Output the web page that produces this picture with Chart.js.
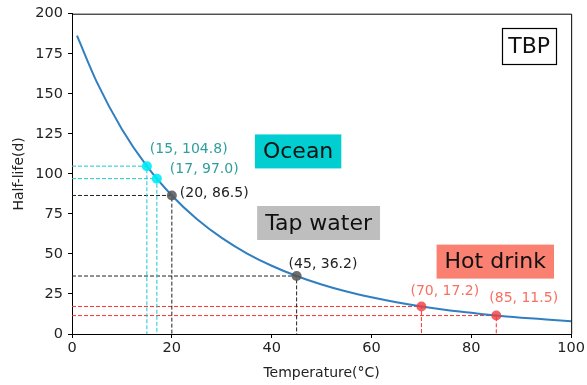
<!DOCTYPE html>
<html>
<head>
<meta charset="utf-8">
<script src="https://cdn.jsdelivr.net/npm/chart.js@4"></script>
<style>
  html, body { margin: 0; padding: 0; background: #fff; }
  canvas { display: block; }
</style>
</head>
<body>
<canvas id="tbpChart" width="587" height="385"></canvas>
<script>
// 곡선 데이터
var temps = [1, 5, 10, 15, 20, 25, 30, 35, 40, 45, 50, 55, 60, 65, 70, 75, 80, 85, 90, 95, 100];
var halfLife = [186.3, 157.1, 127.9, 104.8, 86.5, 71.8, 60.0, 50.4, 42.6, 36.2, 30.9, 26.5, 22.9, 19.8, 17.2, 15.0, 13.2, 11.5, 10.2, 9.1, 8.0];

// 표시된 점들
var oceanT = [15, 17];
var oceanH = [104.8, 97.0];
var tapT = [20, 45];
var tapH = [86.5, 36.2];
var hotT = [70, 85];
var hotH = [17.2, 11.5];

// 텍스트 박스
var boxLabels = ['Ocean', 'Tap water', 'Hot drink'];
var boxX = [45.3, 49.4, 84.8];
var boxY = [114, 69.3, 45.2];
var boxColors = ['#00CED1', '#BEBEBE', '#FA8072'];

var xTicks = [0, 20, 40, 60, 80, 100];
var yTicks = [0, 25, 50, 75, 100, 125, 150, 175, 200];

var FONT = "'DejaVu Sans', sans-serif";

function toXY(xs, ys) {
    return xs.map(function(x, i) { return {x: x, y: ys[i]}; });
}

// 점에서 축까지 점선
function guideSets(xs, ys, color) {
    return xs.map(function(x, i) {
        return {
            type: 'line',
            data: [{x: 0, y: ys[i]}, {x: x, y: ys[i]}, {x: x, y: 0}],
            borderColor: color,
            borderWidth: 1,
            borderDash: [4, 2],
            pointRadius: 0,
            fill: false,
            tension: 0,
            order: 5
        };
    });
}

function pointSet(xs, ys, color) {
    return {
        type: 'scatter',
        data: toXY(xs, ys),
        backgroundColor: color,
        borderColor: color,
        pointRadius: 5,
        borderWidth: 0,
        order: 1
    };
}

// 라벨 오프셋 (px)
var labelSets = [
    {xs: oceanT, ys: oceanH, color: '#2E9E9E', dx: [3, 13], dy: [-17, -9]},
    {xs: tapT, ys: tapH, color: '#222222', dx: [8, -8], dy: [-2, -12]},
    {xs: hotT, ys: hotH, color: '#F87060', dx: [-11, -7], dy: [-15, -17]}
];

var annotPlugin = {
    id: 'annot',
    afterDatasetsDraw: function(chart) {
        var ctx = chart.ctx;
        var xs = chart.scales.x, ys = chart.scales.y;
        var area = chart.chartArea;
        ctx.save();

        // 테두리 (위, 오른쪽)
        ctx.strokeStyle = '#000';
        ctx.lineWidth = 1;
        ctx.beginPath();
        ctx.moveTo(area.left, area.top + 0.5);
        ctx.lineTo(area.right + 0.5, area.top + 0.5);
        ctx.lineTo(area.right + 0.5, area.bottom);
        ctx.stroke();

        // 점 라벨
        ctx.font = '14px ' + FONT;
        ctx.textAlign = 'left';
        ctx.textBaseline = 'middle';
        labelSets.forEach(function(s) {
            ctx.fillStyle = s.color;
            s.xs.forEach(function(t, i) {
                var px = xs.getPixelForValue(t) + s.dx[i];
                var py = ys.getPixelForValue(s.ys[i]) + s.dy[i];
                ctx.fillText('(' + t + ', ' + s.ys[i].toFixed(1) + ')', px, py);
            });
        });

        // 박스 라벨
        ctx.font = '22px ' + FONT;
        ctx.textAlign = 'center';
        boxLabels.forEach(function(txt, i) {
            var cx = xs.getPixelForValue(boxX[i]);
            var cy = ys.getPixelForValue(boxY[i]);
            var w = ctx.measureText(txt).width + 16;
            var h = 34;
            ctx.fillStyle = boxColors[i];
            ctx.fillRect(cx - w / 2, cy - h / 2, w, h);
            ctx.fillStyle = '#111';
            ctx.fillText(txt, cx, cy + 1);
        });

        // TBP 박스
        var tx = xs.getPixelForValue(91.6);
        var ty = ys.getPixelForValue(179.6);
        var tw = ctx.measureText('TBP').width + 12;
        ctx.fillStyle = '#fff';
        ctx.fillRect(tx - tw / 2, ty - 18, tw, 36);
        ctx.strokeStyle = '#000';
        ctx.lineWidth = 1.2;
        ctx.strokeRect(Math.round(tx - tw / 2) + 0.5, Math.round(ty - 18) + 0.5, Math.round(tw), 36);
        ctx.fillStyle = '#111';
        ctx.fillText('TBP', tx, ty + 1);

        ctx.restore();
    }
};

var datasets = []
    .concat(guideSets(oceanT, oceanH, '#1CC8CF'))
    .concat(guideSets(tapT, tapH, '#222222'))
    .concat(guideSets(hotT, hotH, '#FF3030'))
    .concat([{
        type: 'line',
        data: toXY(temps, halfLife),
        borderColor: '#2F7FC1',
        borderWidth: 2,
        pointRadius: 0,
        fill: false,
        cubicInterpolationMode: 'monotone',
        order: 3
    }])
    .concat([
        pointSet(oceanT, oceanH, 'rgba(0,235,245,0.9)'),
        pointSet(tapT, tapH, 'rgba(85,85,85,0.85)'),
        pointSet(hotT, hotH, 'rgba(240,60,60,0.8)')
    ]);

var ctx = document.getElementById('tbpChart').getContext('2d');
new Chart(ctx, {
    type: 'line',
    data: {datasets: datasets},
    plugins: [annotPlugin],
    options: {
        responsive: false,
        animation: false,
        devicePixelRatio: 1,
        layout: {padding: {top: 13, right: 14, left: 0, bottom: 0}},
        plugins: {legend: {display: false}, tooltip: {enabled: false}},
        scales: {
            x: {
                type: 'linear',
                min: 0,
                max: 100,
                afterBuildTicks: function(s) { s.ticks = xTicks.map(function(v) { return {value: v}; }); },
                afterFit: function(s) { s.height = 51; },
                ticks: {color: '#222', font: {family: FONT, size: 14.5}, padding: 2, maxRotation: 0},
                grid: {drawOnChartArea: false, drawTicks: true, tickLength: 4, color: '#000'},
                border: {color: '#000', width: 1},
                title: {display: true, text: 'Temperature(°C)', color: '#222', font: {family: FONT, size: 14}, padding: {top: 0, bottom: 3}}
            },
            y: {
                type: 'linear',
                min: 0,
                max: 200,
                afterBuildTicks: function(s) { s.ticks = yTicks.map(function(v) { return {value: v}; }); },
                afterFit: function(s) { s.width = 72; },
                ticks: {color: '#222', font: {family: FONT, size: 14.5}, padding: 5},
                grid: {drawOnChartArea: false, drawTicks: true, tickLength: 4, color: '#000'},
                border: {color: '#000', width: 1},
                title: {display: true, text: 'Half-life(d)', color: '#222', font: {family: FONT, size: 14}, padding: {top: 11, bottom: 0}}
            }
        }
    }
});
</script>
</body>
</html>
